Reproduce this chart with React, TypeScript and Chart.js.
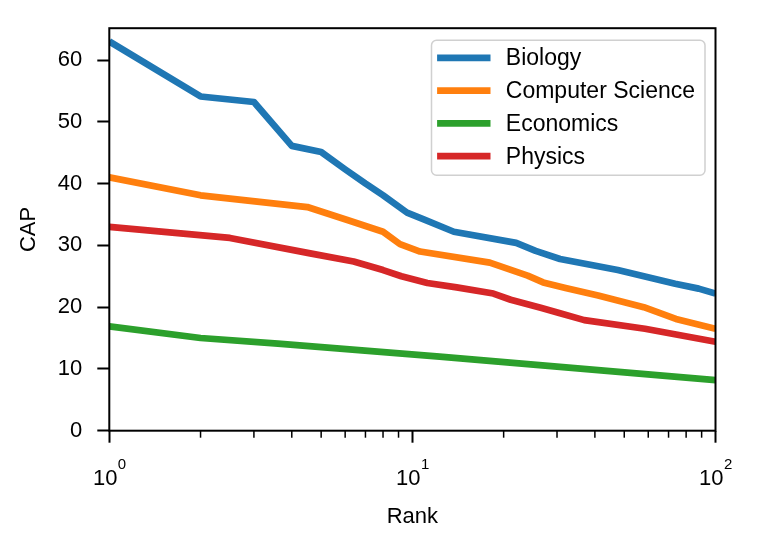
import React, { useEffect, useRef } from "react";
import { Chart, registerables } from "chart.js";

Chart.register(...registerables);

const FONT = '"Liberation Sans", Arial, Helvetica, sans-serif';

const seriesNames = ["Biology", "Computer Science", "Economics", "Physics"];
const seriesColors = ["#1f77b4", "#ff7f0e", "#2ca02c", "#d62728"];

const biologyRank = [1, 2, 3, 4, 5, 6, 7, 8, 9.6, 10.9, 13.7, 22, 25.5, 30.7, 47.6, 73.6, 88, 100];
const biologyCap = [63, 54.1, 53.2, 46.1, 45.1, 42.3, 40, 38.1, 35.3, 34.2, 32.2, 30.4, 29.1, 27.8, 26, 23.8, 23, 22.2];

const computerScienceRank = [1, 2, 4.5, 6.1, 8, 9.1, 10.6, 18, 24, 27, 32, 41, 58, 74, 100];
const computerScienceCap = [41, 38.1, 36.2, 34.1, 32.2, 30.2, 29.0, 27.2, 25.1, 24.0, 23.1, 21.9, 20.0, 18.1, 16.5];

const economicsRank = [1, 2, 3.6, 12.3, 100];
const economicsCap = [16.9, 15.0, 14.1, 12.0, 8.2];

const physicsRank = [1, 2.5, 4.6, 6.4, 8, 9.2, 11.2, 14, 18.5, 21.1, 26.5, 30.7, 36.9, 58.5, 100];
const physicsCap = [33, 31.2, 28.7, 27.4, 26.0, 25.0, 23.9, 23.2, 22.2, 21.2, 19.9, 19.0, 17.9, 16.5, 14.4];

const seriesRanks = [biologyRank, computerScienceRank, economicsRank, physicsRank];
const seriesCaps = [biologyCap, computerScienceCap, economicsCap, physicsCap];

const yTicks = [0, 10, 20, 30, 40, 50, 60];
const xMajorTicks = [1, 10, 100];
const xMinorTicks = [2, 3, 4, 5, 6, 7, 8, 9, 20, 30, 40, 50, 60, 70, 80, 90];
const xTickBase = "10";
const xTickExponents = ["0", "1", "2"];

const X_MIN = 1;
const X_MAX = 100;
const Y_MIN = 0;
const Y_MAX = 65.15;

const LINE_W = 6.7;

const framePlugin = {
  id: "frame",
  afterDraw(chart: any) {
    const { ctx, chartArea } = chart;
    const xs = chart.scales.x;
    ctx.save();
    // minor ticks
    ctx.strokeStyle = "#000";
    ctx.lineWidth = 1.5;
    xMinorTicks.forEach((v) => {
      const px = xs.getPixelForValue(v);
      ctx.beginPath();
      ctx.moveTo(px, chartArea.bottom);
      ctx.lineTo(px, chartArea.bottom + 7);
      ctx.stroke();
    });
    // spines
    ctx.lineWidth = 2;
    ctx.strokeRect(chartArea.left, chartArea.top, chartArea.right - chartArea.left, chartArea.bottom - chartArea.top);

    // x tick labels as 10^n
    ctx.fillStyle = "#000";
    ctx.textBaseline = "alphabetic";
    ctx.textAlign = "left";
    xMajorTicks.forEach((v, i) => {
      const px = xs.getPixelForValue(v);
      ctx.font = `22px ${FONT}`;
      const w1 = ctx.measureText(xTickBase).width;
      ctx.font = `15px ${FONT}`;
      const w2 = ctx.measureText(xTickExponents[i]).width;
      const x0 = px - (w1 + w2) / 2;
      ctx.font = `22px ${FONT}`;
      ctx.fillText(xTickBase, x0, chartArea.bottom + 54.3);
      ctx.font = `15px ${FONT}`;
      ctx.fillText(xTickExponents[i], x0 + w1 + 0.5, chartArea.bottom + 37.8);
    });

    // legend
    ctx.font = `23px ${FONT}`;
    const labels = chart.data.datasets.map((d: any) => d.label);
    const textW = Math.max(...labels.map((l: string) => ctx.measureText(l).width));
    const padL = 5.6, handleW = 53.4, gap = 15.3, padR = 10;
    const rowH = 32.8, firstRow = 17.6, padB = 19;
    const boxW = padL + handleW + gap + textW + padR;
    const boxH = firstRow + rowH * (labels.length - 1) + padB;
    const right = chartArea.right - 10.5;
    const top = chartArea.top + 12;
    const left = right - boxW;
    const r = 5;
    ctx.beginPath();
    ctx.moveTo(left + r, top);
    ctx.lineTo(left + boxW - r, top);
    ctx.arcTo(left + boxW, top, left + boxW, top + r, r);
    ctx.lineTo(left + boxW, top + boxH - r);
    ctx.arcTo(left + boxW, top + boxH, left + boxW - r, top + boxH, r);
    ctx.lineTo(left + r, top + boxH);
    ctx.arcTo(left, top + boxH, left, top + boxH - r, r);
    ctx.lineTo(left, top + r);
    ctx.arcTo(left, top, left + r, top, r);
    ctx.closePath();
    ctx.fillStyle = "rgba(255,255,255,0.8)";
    ctx.fill();
    ctx.strokeStyle = "#d0d0d0";
    ctx.lineWidth = 1.5;
    ctx.stroke();

    chart.data.datasets.forEach((d: any, i: number) => {
      const y = top + firstRow + i * rowH;
      ctx.strokeStyle = d.borderColor;
      ctx.lineWidth = LINE_W;
      ctx.lineCap = "butt";
      ctx.beginPath();
      ctx.moveTo(left + padL, y);
      ctx.lineTo(left + padL + handleW, y);
      ctx.stroke();
      ctx.fillStyle = "#000";
      ctx.textBaseline = "middle";
      ctx.textAlign = "left";
      ctx.fillText(d.label, left + padL + handleW + gap, y + 1);
    });
    ctx.restore();
  },
};

export default function App() {
  const canvasRef = useRef<HTMLCanvasElement | null>(null);

  useEffect(() => {
    if (!canvasRef.current) return;
    const tickFont = { family: FONT, size: 22 };
    const chart = new Chart(canvasRef.current, {
      type: "line",
      data: {
        datasets: seriesNames.map((name, i) => ({
          label: name,
          data: seriesRanks[i].map((r, j) => ({ x: r, y: seriesCaps[i][j] })),
          borderColor: seriesColors[i],
          backgroundColor: seriesColors[i],
          borderWidth: LINE_W,
          pointRadius: 0,
          pointHoverRadius: 0,
          fill: false,
          tension: 0,
          borderJoinStyle: "round",
          borderCapStyle: "butt",
          clip: 0,
        })),
      },
      options: {
        animation: false,
        responsive: true,
        maintainAspectRatio: false,
        parsing: false,
        layout: { padding: { top: 24.7, right: 45.5, left: 0, bottom: 0 } },
        plugins: {
          legend: { display: false },
          tooltip: { enabled: false },
        },
        scales: {
          x: {
            type: "logarithmic",
            position: "bottom",
            min: X_MIN,
            max: X_MAX,
            afterFit: (s: any) => {
              s.height = 123.3;
            },
            afterBuildTicks: (s: any) => {
              s.ticks = [...xMajorTicks, ...xMinorTicks]
                .sort((a, b) => a - b)
                .map((v) => ({ value: v }));
            },
            ticks: {
              autoSkip: false,
              maxRotation: 0,
              minRotation: 0,
              padding: 20,
              color: "#000",
              font: tickFont,
              callback: () => "",
            },
            grid: {
              drawOnChartArea: false,
              drawTicks: true,
              tickLength: 12,
              tickWidth: 2,
              tickColor: (ctx: any) =>
                ctx.tick && xMajorTicks.includes(ctx.tick.value) ? "#000" : "rgba(0,0,0,0)",
            },
            border: { display: false },
            title: {
              display: true,
              text: "Rank",
              color: "#000",
              font: { family: FONT, size: 22 },
              padding: { top: 0, bottom: 24.2 },
            },
          },
          y: {
            type: "linear",
            position: "left",
            min: Y_MIN,
            max: Y_MAX,
            afterFit: (s: any) => {
              s.width = 109.3;
            },
            afterBuildTicks: (s: any) => {
              s.ticks = yTicks.map((v) => ({ value: v }));
            },
            ticks: {
              padding: 15,
              color: "#000",
              font: tickFont,
            },
            grid: {
              drawOnChartArea: false,
              drawTicks: true,
              tickLength: 12,
              tickWidth: 2,
              tickColor: "#000",
            },
            border: { display: false },
            title: {
              display: true,
              text: "CAP",
              color: "#000",
              font: { family: FONT, size: 22 },
              padding: { top: 15.8, bottom: 0 },
            },
          },
        },
      },
      plugins: [framePlugin],
    } as any);
    return () => chart.destroy();
  }, []);

  return (
    <div style={{ position: "fixed", left: 0, top: 0, width: 761, height: 554, background: "#fff" }}>
      <canvas ref={canvasRef} />
    </div>
  );
}
